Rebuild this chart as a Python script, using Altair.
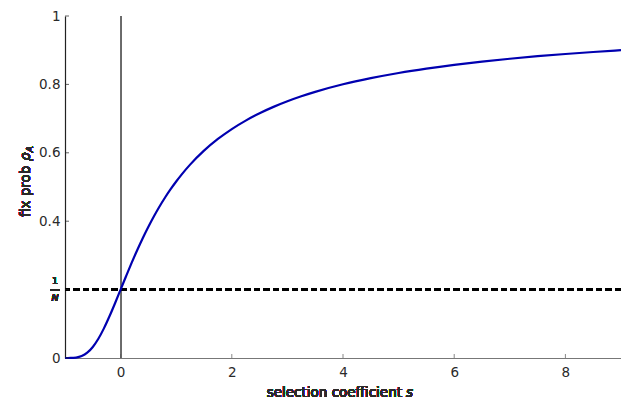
import altair as alt
import pandas as pd

# Data
s_vals = [-1.0, -0.9, -0.8, -0.7, -0.6, -0.5, -0.4, -0.3, -0.2, -0.1, 0.0, 0.1, 0.2, 0.3, 0.4,
          0.5, 0.6, 0.7, 0.8, 0.9, 1.0, 1.1, 1.25, 1.5, 1.75, 2.0, 2.25, 2.5, 2.75, 3.0, 3.25,
          3.5, 4.0, 4.5, 5.0, 5.5, 6.0, 6.5, 7.0, 7.5, 8.0, 8.5, 9.0]
rho_vals = [0.0, 0.0001, 0.0013, 0.0057, 0.0155, 0.0323, 0.0562, 0.0866, 0.1219, 0.1602, 0.2,
            0.2398, 0.2787, 0.3158, 0.3510, 0.3839, 0.4145, 0.4430, 0.4693, 0.4936, 0.5161,
            0.5370, 0.5654, 0.6062, 0.6404, 0.6694, 0.6942, 0.7157, 0.7343, 0.7507, 0.7653,
            0.7782, 0.8003, 0.8182, 0.8334, 0.8462, 0.8572, 0.8667, 0.875, 0.8824, 0.8889,
            0.8947, 0.9]
x_ticks = [0, 2, 4, 6, 8]
y_ticks = [0, 0.2, 0.4, 0.6, 0.8, 1]
inv_N = 0.2

FONT = "DejaVu Sans"
FS = 13.5
TXT = "#2a2a2a"
df = pd.DataFrame({"s": s_vals, "rho": rho_vals})
xt = pd.DataFrame({"t": x_ticks})
yt = pd.DataFrame({"t": y_ticks})

xs = alt.Scale(domain=[-1, 9], nice=False, zero=False)
ys = alt.Scale(domain=[0, 1], nice=False, zero=False)

x_axis = alt.Axis(values=x_ticks, ticks=False, grid=False, title=None, labelPadding=7,
                  domainColor="#777777", domainWidth=1.2, labelFont=FONT, labelFontSize=FS,
                  labelColor=TXT, labelExpr="'' + datum.value")
y_axis = alt.Axis(values=y_ticks, ticks=False, grid=False, title=None, labelPadding=5,
                  domainColor="#222222", domainWidth=1.2, labelFont=FONT, labelFontSize=FS,
                  labelColor=TXT,
                  labelExpr="datum.value == 0.2 ? '' : '' + datum.value")

curve = alt.Chart(df).mark_line(color="#0000b0", strokeWidth=2.2,
                                interpolate="monotone").encode(
    x=alt.X("s:Q", scale=xs, axis=x_axis),
    y=alt.Y("rho:Q", scale=ys, axis=y_axis),
)

hline = alt.Chart(df).mark_rule(color="black", strokeWidth=2, strokeDash=[6, 3.5]).encode(
    y=alt.datum(inv_N)
)
vline = alt.Chart(df).mark_rule(color="#6e6e6e", strokeWidth=1).encode(
    x=alt.datum(0)
)

xtick = alt.Chart(xt).mark_tick(orient="vertical", size=4, thickness=1, yOffset=-2,
                                color="#555555").encode(x=alt.X("t:Q"), y=alt.datum(0))
ytick = alt.Chart(yt).mark_tick(orient="horizontal", size=4, thickness=1, xOffset=2,
                                color="#222222").encode(x=alt.datum(-1), y=alt.Y("t:Q"))

# fraction label 1/N
frac_one = alt.Chart(df).mark_text(font=FONT, fontSize=9.5, color=TXT, dy=-8.5).encode(
    x=alt.value(-10), y=alt.datum(inv_N), text=alt.value("1"))
frac_N = alt.Chart(df).mark_text(font=FONT, fontSize=9.5, fontStyle="italic", color=TXT,
                                 dy=8.5).encode(
    x=alt.value(-10), y=alt.datum(inv_N), text=alt.value("N"))
frac_bar = alt.Chart(df).mark_rule(color=TXT, strokeWidth=0.8).encode(
    x=alt.value(-15), x2=alt.value(-5), y=alt.datum(inv_N))

# axis titles
xtitle_a = alt.Chart(df).mark_text(font=FONT, fontSize=FS, color=TXT, align="right",
                                   baseline="alphabetic").encode(
    x=alt.value(337), y=alt.value(381), text=alt.value("selection coefficient"))
xtitle_b = alt.Chart(df).mark_text(font=FONT, fontSize=FS, fontStyle="italic", color=TXT,
                                   align="left", baseline="alphabetic").encode(
    x=alt.value(341), y=alt.value(381), text=alt.value("s"))
ytitle_a = alt.Chart(df).mark_text(font=FONT, fontSize=FS, color=TXT, align="left",
                                   baseline="alphabetic", angle=270).encode(
    x=alt.value(-35), y=alt.value(201), text=alt.value("fix prob"))
ytitle_b = alt.Chart(df).mark_text(font=FONT, fontSize=FS, fontStyle="italic", color=TXT,
                                   align="left", baseline="alphabetic", angle=270,
                                   dx=56).encode(
    x=alt.value(-35), y=alt.value(201), text=alt.value("ρ"))
ytitle_c = alt.Chart(df).mark_text(font=FONT, fontSize=9.5, fontStyle="italic", color=TXT,
                                   align="left", baseline="alphabetic", angle=270, dy=3,
                                   dx=64.5).encode(
    x=alt.value(-35), y=alt.value(201), text=alt.value("A"))

chart = alt.layer(
    vline, hline, curve, xtick, ytick, frac_bar, frac_one, frac_N,
    xtitle_a, xtitle_b, ytitle_a, ytitle_b, ytitle_c
).properties(
    width=556, height=342,
    autosize=alt.AutoSizeParams(type="none"),
    padding={"left": 57, "top": 8, "right": 0, "bottom": 42},
).configure_view(stroke=None)

chart.save("out.html", embed_options={"renderer": "svg", "actions": False})
